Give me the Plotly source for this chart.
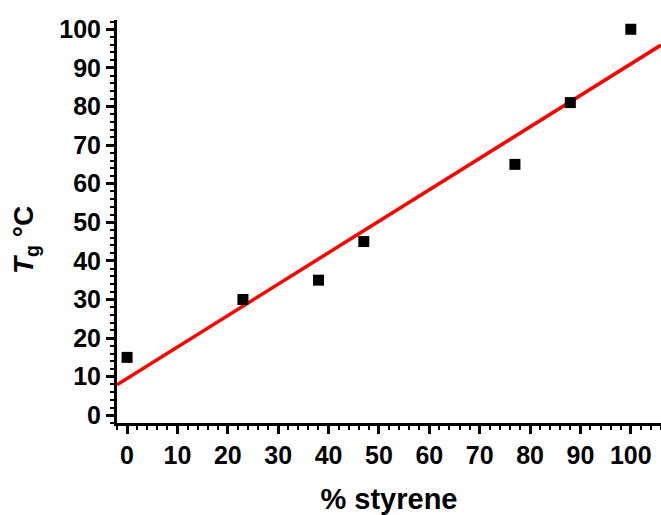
import plotly.graph_objects as go

styrene_pct = [0, 23, 38, 47, 77, 88, 100]
tg_values = [15, 30, 35, 45, 65, 81, 100]
fit_x = [-2, 106]
fit_y = [7.9, 95.9]
x_ticks = [0, 10, 20, 30, 40, 50, 60, 70, 80, 90, 100]
y_ticks = [0, 10, 20, 30, 40, 50, 60, 70, 80, 90, 100]

fig = go.Figure()
fig.add_trace(go.Scatter(x=fit_x, y=fit_y, mode="lines",
                         line=dict(color="#ff0000", width=3.5), showlegend=False, cliponaxis=True))
fig.add_trace(go.Scatter(x=styrene_pct, y=tg_values, mode="markers",
                         marker=dict(symbol="square", size=11, color="black"),
                         showlegend=False, cliponaxis=False))

font = "Liberation Sans, Arial, sans-serif"
axis_common = dict(
    showgrid=False, zeroline=False, showline=True, linecolor="black", linewidth=3,
    ticks="outside", ticklen=8, tickwidth=2.5, tickcolor="black", automargin=False,
    tickfont=dict(family=font, size=25, color="black", weight="bold"),
    minor=dict(ticks="outside", ticklen=4, tickwidth=2, tickcolor="black", dtick=2),
)
fig.update_xaxes(range=[-2, 106], tickvals=x_ticks, ticktext=[str(v) for v in x_ticks],
                 title=dict(text="% styrene", font=dict(family=font, size=29, color="black", weight="bold"), standoff=22),
                 **axis_common)
fig.update_yaxes(range=[-2, 102.4], tickvals=y_ticks, ticktext=[str(v) for v in y_ticks],
                 **axis_common)
fig.add_annotation(text="<i>T</i><sub>g</sub> °C", xref="paper", yref="paper",
                   x=-0.169, y=0.454, xanchor="center", yanchor="middle", textangle=-90,
                   showarrow=False, font=dict(family=font, size=28, color="black", weight="bold"))
fig.update_layout(width=661, height=515, margin=dict(l=117, r=0, t=20, b=92),
                  plot_bgcolor="white", paper_bgcolor="white")
fig.write_html("out.html", config={"displayModeBar": False},
               post_script="document.body.style.margin='0';document.body.style.overflow='hidden';")
